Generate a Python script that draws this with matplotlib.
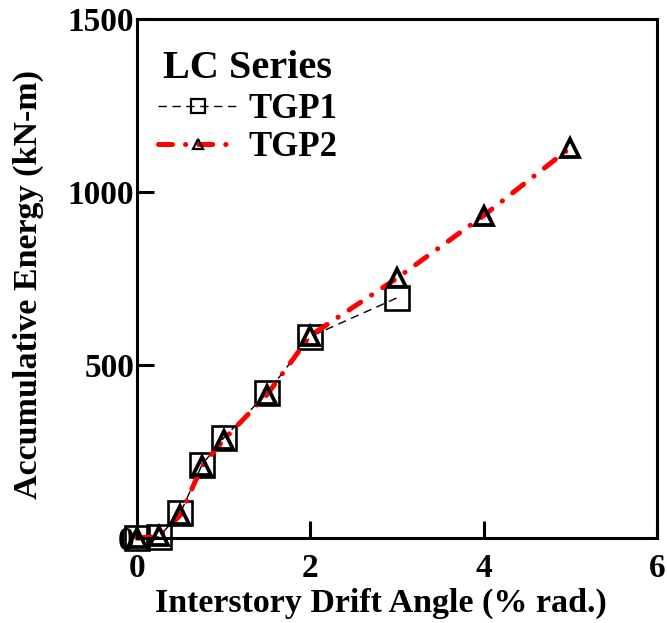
import matplotlib.pyplot as plt

plt.rcParams['font.family'] = 'Liberation Serif'
plt.rcParams['font.weight'] = 'bold'

# drift angle (% rad.) and accumulated energy (kN-m)
drift_tgp1 = [0, 0.25, 0.5, 0.75, 1.0, 1.5, 2.0, 3.0]
energy_tgp1 = [0, 3, 72, 212, 289, 419, 582, 694]

drift_tgp2 = [0, 0.25, 0.5, 0.75, 1.0, 1.5, 2.0, 3.0, 4.0, 5.0]
energy_tgp2 = [0, 5, 66, 208, 284, 414, 585, 751, 932, 1128]

fig = plt.figure(figsize=(6.67, 6.23), dpi=100)
ax = fig.add_axes([0.2054, 0.1364, 0.7796, 0.8331])

ax.plot(drift_tgp1, energy_tgp1, color='black', linestyle=(0, (6, 4)), linewidth=1,
        marker='s', markersize=17, markerfacecolor='none',
        markeredgecolor='black', markeredgewidth=1.9, label='TGP1', clip_on=False)
ax.plot(drift_tgp2, energy_tgp2, color='red', linestyle=(0, (2.8, 2.6, 0.05, 2.6)), linewidth=3.6,
        dash_capstyle='round',
        marker='^', markersize=13, markerfacecolor='none',
        markeredgecolor='black', markeredgewidth=2.7, label='TGP2', clip_on=False)

ax.set_xlim(0, 6)
ax.set_ylim(0, 1500)
ax.set_xticks([0, 2, 4, 6])
ax.set_yticks([0, 500, 1000, 1500])
ax.tick_params(direction='in', length=12, width=2.2, labelsize=24)
ax.tick_params(axis='x', pad=11)
ax.tick_params(axis='y', pad=2)
for s in ax.spines.values():
    s.set_linewidth(2.2)

ax.set_xlabel('Interstory Drift Angle (% rad.)', fontsize=24.5, fontweight='bold')
ax.set_ylabel('Accumulative Energy (kN-m)', fontsize=24.5, fontweight='bold')
ax.xaxis.set_label_coords(0.469, -0.095)
ax.yaxis.set_label_coords(-0.178, 0.488)

leg = ax.legend(title='LC Series', loc='upper left', bbox_to_anchor=(0.0, 0.98),
                frameon=False, fontsize=25, title_fontsize=29, handlelength=2.3,
                borderaxespad=0.2, markerscale=0.6, labelspacing=0.16, handletextpad=0.3)
leg.get_title().set_fontweight('bold')
for t in leg.get_texts():
    t.set_fontweight('bold')
# thinner marker edges so the small legend symbols stay open
for h in leg.legend_handles:
    h.set_markeredgewidth(1.6)

fig.savefig('out.png', dpi=100)
